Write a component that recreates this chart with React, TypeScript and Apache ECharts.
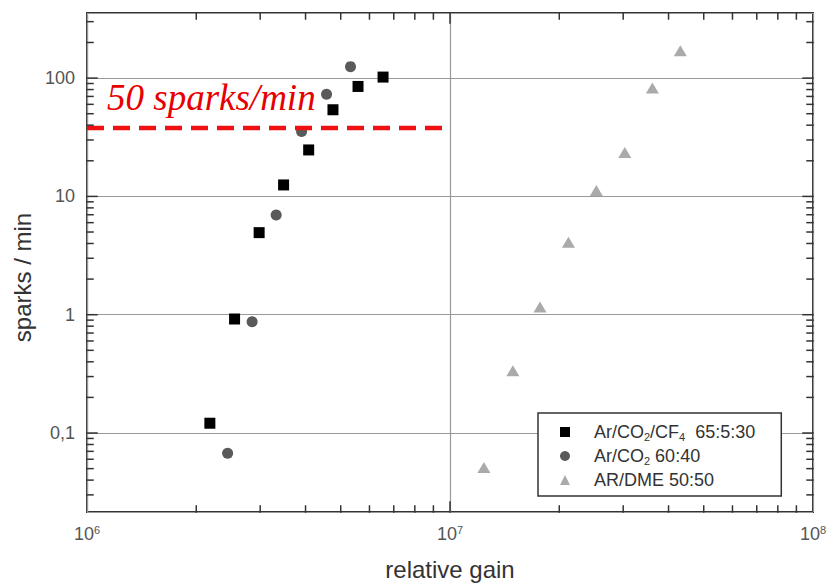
import React, { useEffect, useRef } from 'react';
import * as echarts from 'echarts';

// Ar/CO2/CF4 65:5:30 (squares)
const cf4Gain = [2.18e6, 2.55e6, 2.98e6, 3.48e6, 4.08e6, 4.76e6, 5.58e6, 6.54e6];
const cf4Sparks = [0.121, 0.92, 4.94, 12.5, 24.7, 54, 85, 102];
// Ar/CO2 60:40 (circles)
const co2Gain = [2.44e6, 2.85e6, 3.32e6, 3.9e6, 4.57e6, 5.32e6];
const co2Sparks = [0.0676, 0.873, 6.97, 35.3, 73, 125];
// AR/DME 50:50 (triangles)
const dmeGain = [1.24e7, 1.49e7, 1.77e7, 2.12e7, 2.53e7, 3.03e7, 3.61e7, 4.31e7];
const dmeSparks = [0.0512, 0.336, 1.16, 4.1, 11.2, 23.5, 82.3, 170];
// red dashed limit line
const limitGain = [1e6, 9.67e6];
const limitSparks = [37.8, 37.8];

const seriesNames = ['Ar/CO2/CF4  65:5:30', 'Ar/CO2 60:40', 'AR/DME 50:50'];
const legendRich = [
  '{n|Ar/CO}{s|2}{n|/CF}{s|4}{n|  65:5:30}',
  '{n|Ar/CO}{s|2}{n| 60:40}',
  '{n|AR/DME 50:50}',
];
const annotation = '50 sparks/min';
const xAxisTitle = 'relative gain';
const yAxisTitle = 'sparks / min';

const xMin = 1e6;
const xMax = 1e8;
const yMin = 0.0215;
const yMax = 355;

const xMajorTicks = [1e7];
const xMinorTicks = [2e6, 3e6, 4e6, 5e6, 6e6, 7e6, 8e6, 9e6, 2e7, 3e7, 4e7, 5e7, 6e7, 7e7, 8e7, 9e7];
const yMajorTicks = [0.1, 1, 10, 100];
const yMinorTicks = [
  0.03, 0.04, 0.05, 0.06, 0.07, 0.08, 0.09,
  0.2, 0.3, 0.4, 0.5, 0.6, 0.7, 0.8, 0.9,
  2, 3, 4, 5, 6, 7, 8, 9,
  20, 30, 40, 50, 60, 70, 80, 90,
  200, 300,
];
const yTickLabels: Record<string, string> = { '-1': '0,1', '0': '1', '1': '10', '2': '100' };

const FONT = '"Liberation Sans", Arial, Helvetica, sans-serif';

function isPow10(v: number) {
  const l = Math.log10(v);
  return Math.abs(l - Math.round(l)) < 1e-6;
}

export default function App() {
  const ref = useRef<HTMLDivElement>(null);

  useEffect(() => {
    document.body.style.margin = '0';
    if (!ref.current) return;
    const chart = echarts.init(ref.current, null, { renderer: 'svg' });

    const zip = (a: number[], b: number[]) => a.map((v, i) => [v, b[i]]);

    const annotationGraphic = {
      id: 'annotation',
      type: 'text',
      x: 107,
      y: 97,
      z: 10,
      style: {
        text: annotation,
        fontSize: 37,
        fontStyle: 'italic',
        fontFamily: '"Liberation Serif", "Times New Roman", serif',
        fill: '#e60000',
        verticalAlign: 'middle',
      },
    };

    const option: any = {
      animation: false,
      backgroundColor: '#fff',
      grid: {
        left: 87,
        top: 13,
        width: 726,
        height: 499,
        show: true,
        borderColor: '#333',
        borderWidth: 2,
        backgroundColor: '#fff',
      },
      xAxis: {
        type: 'log',
        logBase: 10,
        min: xMin,
        max: xMax,
        name: xAxisTitle,
        nameLocation: 'middle',
        nameGap: 45,
        nameTextStyle: { fontSize: 24, color: '#333', fontFamily: FONT },
        axisLine: { show: false },
        axisTick: { show: false },
        splitLine: { show: true, lineStyle: { color: '#999', width: 1.2 } },
        axisLabel: {
          margin: 12,
          formatter: (v: number) => (isPow10(v) ? '{b|10}{s|' + Math.round(Math.log10(v)) + '}' : ''),
          rich: {
            b: { fontSize: 18, lineHeight: 20, color: '#555', fontFamily: FONT },
            s: { fontSize: 11, lineHeight: 11, verticalAlign: 'top', color: '#555', fontFamily: FONT },
          },
        },
      },
      yAxis: {
        type: 'log',
        logBase: 10,
        min: yMin,
        max: yMax,
        name: yAxisTitle,
        nameLocation: 'middle',
        nameGap: 50,
        nameRotate: 90,
        nameTextStyle: { fontSize: 24, color: '#333', fontFamily: FONT, padding: [0, 30, 0, 0] },
        axisLine: { show: false },
        axisTick: { show: false },
        splitLine: { show: true, lineStyle: { color: '#999', width: 1.2 } },
        axisLabel: {
          margin: 12,
          fontSize: 18,
          color: '#555',
          fontFamily: FONT,
          formatter: (v: number) => (isPow10(v) ? yTickLabels[String(Math.round(Math.log10(v)))] || '' : ''),
        },
      },
      legend: {
        orient: 'vertical',
        left: 538,
        top: 413,
        padding: [10, 26, 7, 22],
        itemGap: 5,
        itemWidth: 10,
        itemHeight: 10,
        selectedMode: false,
        borderColor: '#333',
        borderWidth: 1.5,
        borderRadius: 0,
        backgroundColor: '#fff',
        data: [
          { name: seriesNames[0], icon: 'rect' },
          { name: seriesNames[1], icon: 'circle' },
          { name: seriesNames[2], icon: 'triangle' },
        ],
        formatter: (name: string) => legendRich[seriesNames.indexOf(name)] || name,
        textStyle: {
          padding: [0, 0, 0, 19],
          rich: {
            n: { fontSize: 18, lineHeight: 20, color: '#333', fontFamily: FONT },
            s: { fontSize: 11, lineHeight: 11, verticalAlign: 'bottom', color: '#333', fontFamily: FONT },
          },
        },
      },
      graphic: [annotationGraphic],
      series: [
        {
          name: seriesNames[0],
          type: 'scatter',
          symbol: 'rect',
          symbolSize: 11,
          itemStyle: { color: '#000', opacity: 1 },
          data: zip(cf4Gain, cf4Sparks),
          z: 4,
        },
        {
          name: seriesNames[1],
          type: 'scatter',
          symbol: 'circle',
          symbolSize: 11,
          itemStyle: { color: '#5a5a5a', opacity: 1 },
          data: zip(co2Gain, co2Sparks),
          z: 4,
        },
        {
          name: seriesNames[2],
          type: 'scatter',
          symbol: 'triangle',
          symbolSize: [13, 11],
          itemStyle: { color: '#aaaaaa', opacity: 1 },
          data: zip(dmeGain, dmeSparks),
          z: 4,
        },
        {
          name: 'limit',
          type: 'line',
          symbol: 'none',
          data: zip(limitGain, limitSparks),
          lineStyle: { color: '#ee1111', width: 4.5, type: [17, 9] },
          silent: true,
          z: 6,
        },
      ],
    };

    chart.setOption(option);

    // Tick marks: positions come from the chart's own log scales.
    const toPx = (x: number, y: number) =>
      chart.convertToPixel({ xAxisIndex: 0, yAxisIndex: 0 }, [x, y]) as number[];
    const [left, bottom] = toPx(xMin, yMin);
    const [right, top] = toPx(xMax, yMax);
    const MINOR = 6;
    const MAJOR = 10;
    const ticks: any[] = [];
    const mk = (x1: number, y1: number, x2: number, y2: number) => ({
      type: 'rect',
      z: 20,
      silent: true,
      shape: {
        x: Math.min(x1, x2) - 0.75,
        y: Math.min(y1, y2) - 0.75,
        width: Math.abs(x2 - x1) + 1.5,
        height: Math.abs(y2 - y1) + 1.5,
      },
      style: { fill: '#333' },
    });
    const addX = (v: number, len: number) => {
      const px = toPx(v, 1)[0];
      ticks.push(mk(px, bottom, px, bottom - len));
      ticks.push(mk(px, top, px, top + len));
    };
    const addY = (v: number, len: number) => {
      const py = toPx(1e7, v)[1];
      ticks.push(mk(left, py, left + len, py));
      ticks.push(mk(right, py, right - len, py));
    };
    xMinorTicks.forEach((v) => addX(v, MINOR));
    xMajorTicks.forEach((v) => addX(v, MAJOR));
    yMinorTicks.forEach((v) => addY(v, MINOR));
    yMajorTicks.forEach((v) => addY(v, MAJOR));

    chart.setOption({ graphic: [annotationGraphic, ...ticks] });

    return () => chart.dispose();
  }, []);

  return <div ref={ref} style={{ width: 831, height: 586 }} />;
}
